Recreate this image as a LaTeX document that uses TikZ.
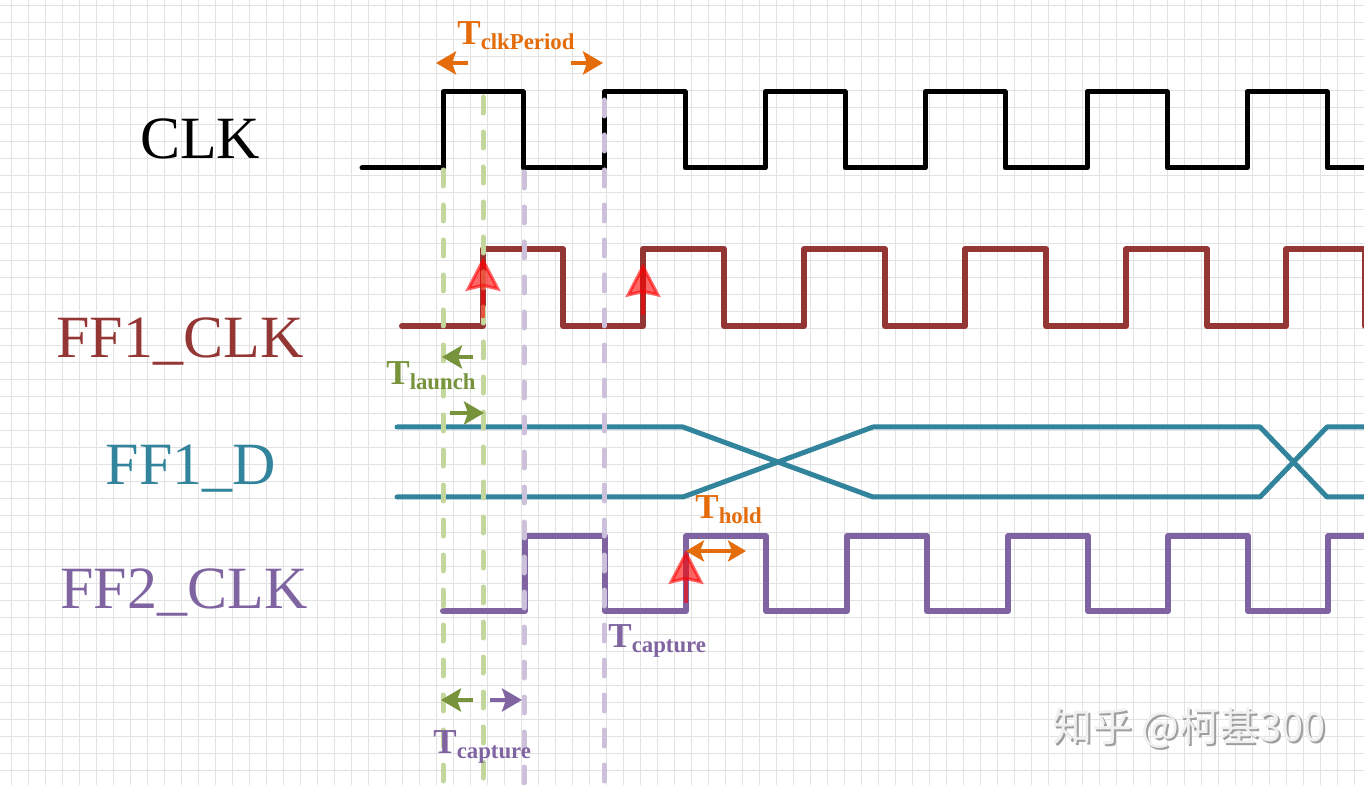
\documentclass[tikz,border=0pt]{standalone}
\usepackage{fontspec}
\setmainfont{Liberation Serif}
\newfontfamily\cjkfont{Noto Sans CJK SC}
\usetikzlibrary{arrows.meta}

\definecolor{clkred}{HTML}{943634}
\definecolor{dteal}{HTML}{31849B}
\definecolor{ffpurple}{HTML}{8064A2}
\definecolor{lgreen}{HTML}{C3D69B}
\definecolor{lpurple}{HTML}{CCC0DA}
\definecolor{dgreen}{HTML}{77933C}
\definecolor{torange}{HTML}{E46C0A}
\definecolor{gridc}{HTML}{E2E2E2}

\tikzset{
  wave/.style={line width=2.5pt, line join=round, line cap=round},
  guide/.style={line width=2.5pt, line cap=round, dash pattern=on 8pt off 9.5pt},
  tarrow/.style={line width=2pt, -{Stealth[length=10pt, width=11.5pt, inset=2pt]}},
  tdarrow/.style={line width=2pt, {Stealth[length=9pt, width=10.5pt, inset=2pt]}-{Stealth[length=9pt, width=10.5pt, inset=2pt]}},
  edgearrow/.style={red, opacity=0.6, line width=1.6pt, -{Stealth[length=17pt, width=17.5pt, inset=2pt]}},
  signame/.style={anchor=base, inner sep=0pt, font=\fontsize{30}{32}\selectfont},
  tlabel/.style={anchor=base west, inner sep=0pt, font=\bfseries},
}
\newcommand{\tsub}[1]{{\fontsize{17.5}{19}\selectfont T}\raisebox{-2.5pt}{\fontsize{11.4}{13}\selectfont #1}}

\begin{document}
\begin{tikzpicture}[x=0.5pt, y=-0.5pt]

\useasboundingbox (0,0) rectangle (1364,785);
\fill[white] (0,0) rectangle (1364,785);

% grid paper
\foreach \i in {0,...,80}
  \draw[gridc, line width=0.5pt] ({11.7+17*\i},0) -- ++(0,785);
\foreach \j in {0,...,46}
  \draw[gridc, line width=0.5pt] (0,{5.7+17*\j}) -- ++(1364,0);

% signal names
\node[signame] (n-clk) at (200,159) {CLK};
\node[signame, clkred] (n-ff1clk) at (180,358) {FF1\_CLK};
\node[signame, dteal] (n-ff1d) at (191,485) {FF1\_D};
\node[signame, ffpurple] (n-ff2clk) at (184,608) {FF2\_CLK};

% CLK
\draw[wave, black] plot[sharp plot] coordinates {
(362,168) (443,168) (443,92) (523,92) (523,168) (604,168) (604,92) (685,92)
(685,168) (765,168) (765,92) (845,92) (845,168) (925,168) (925,92) (1005,92)
(1005,168) (1087,168) (1087,92) (1167,92) (1167,168) (1247,168) (1247,92)
(1327,92) (1327,168) (1372,168)
};

% FF1_CLK
\draw[wave, clkred, line width=3pt] plot[sharp plot] coordinates {
(402,326) (483,326) (483,249) (563,249) (563,326) (643,326) (643,249) (724,249)
(724,326) (804,326) (804,249) (885,249) (885,326) (965,326) (965,249) (1046,249)
(1046,326) (1126,326) (1126,249) (1207,249) (1207,326) (1286,326) (1286,249)
(1365,249) (1365,326)
};

% FF1_D
\draw[wave, dteal] plot[sharp plot] coordinates {
(397,427) (683,427) (873,497) (1260,497) (1327,427) (1372,427)
};
\draw[wave, dteal] plot[sharp plot] coordinates {
(397,497) (683,497) (873,427) (1260,427) (1327,497) (1372,497)
};

% FF2_CLK
\draw[wave, ffpurple, line width=3pt] plot[sharp plot] coordinates {
(443,611) (525,611) (525,536) (605,536) (605,611) (686,611) (686,536) (766,536)
(766,611) (847,611) (847,536) (927,536) (927,611) (1008,611) (1008,536)
(1088,536) (1088,611) (1168,611) (1168,536) (1248,536) (1248,611) (1328,611)
(1328,536) (1372,536)
};

% guide lines
\draw[guide, lgreen] (443,170) -- (443,792);
\draw[guide, lgreen] (483,97) -- (483,792);
\draw[guide, lpurple] (524,172) -- (524,792);
\draw[guide, lpurple] (604,100) -- (604,792);

% active edges
\path
(483,318) coordinate (e1-s) (483,257) coordinate (e1-t)
(643,315) coordinate (e2-s) (643,263) coordinate (e2-t)
(686,603) coordinate (e3-s) (686,550) coordinate (e3-t)
;
\draw[edgearrow] (e1-s) -- (e1-t);
\draw[edgearrow] (e2-s) -- (e2-t);
\draw[edgearrow] (e3-s) -- (e3-t);

% clock period
\path
(468,63) coordinate (per-a) (436,63) coordinate (per-b)
(571,63) coordinate (per-c) (603,63) coordinate (per-d)
;
\draw[tarrow, torange] (per-a) -- (per-b);
\draw[tarrow, torange] (per-c) -- (per-d);
\node[tlabel, torange] (l-per) at (457,45) {\tsub{clkPeriod}};

% launch
\path
(473,357) coordinate (la-a) (442,357) coordinate (la-b)
(450,413) coordinate (la-c) (484,413) coordinate (la-d)
;
\draw[tarrow, dgreen] (la-a) -- (la-b);
\draw[tarrow, dgreen] (la-c) -- (la-d);
\node[tlabel, dgreen] (l-launch) at (386,385) {\tsub{launch}};

% capture
\path
(473,700) coordinate (ca-a) (441,700) coordinate (ca-b)
(490,700) coordinate (ca-c) (522,700) coordinate (ca-d)
;
\draw[tarrow, dgreen] (ca-a) -- (ca-b);
\draw[tarrow, ffpurple] (ca-c) -- (ca-d);
\node[tlabel, ffpurple] (l-cap1) at (433,753) {\tsub{capture}};
\node[tlabel, ffpurple] (l-cap2) at (608,647) {\tsub{capture}};

% hold
\path (686,551) coordinate (ho-a) (746,551) coordinate (ho-b);
\draw[tdarrow, torange] (ho-a) -- (ho-b);
\node[tlabel, torange] (l-hold) at (695,518) {\tsub{hold}};

% watermark
\node[font=\cjkfont\fontsize{20}{22}\selectfont, text=gray!75] (wm-shadow) at (1191,730) {知乎 @柯基300};
\node[font=\cjkfont\fontsize{20}{22}\selectfont, text=gray!12] (wm) at (1189,728) {知乎 @柯基300};

\end{tikzpicture}
\end{document}
